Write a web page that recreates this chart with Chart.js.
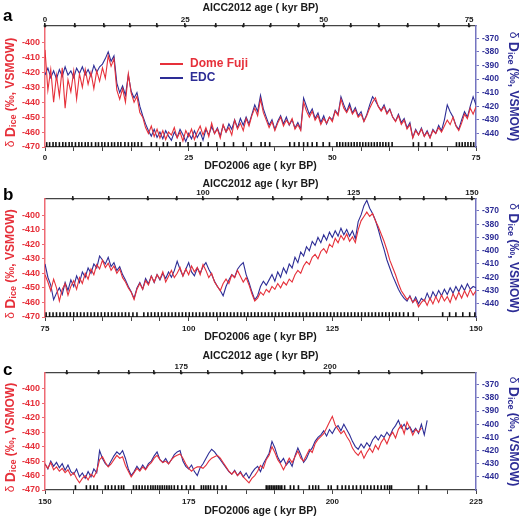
<!DOCTYPE html>
<html><head><meta charset="utf-8">
<script src="https://cdn.jsdelivr.net/npm/chart.js@4"></script>
<style>
body{margin:0;background:#fff;}
.p{position:absolute;left:0;width:525px;}
canvas{display:block;}
</style></head><body>
<div class="p" style="top:0"><canvas id="ca" width="525" height="172"></canvas></div>
<div class="p" style="top:172px"><canvas id="cb" width="525" height="173"></canvas></div>
<div class="p" style="top:345px"><canvas id="cc" width="525" height="172"></canvas></div>
<script>
// step between samples (kyr) for every record
const STEP=0.5;

// panel a : 0-75 kyr (DFO2006)
const dfA=[
-405,-432,-418,-440,-422,-436,-417,-444,-425,-433,
-419,-438,-421,-430,-418,-428,-420,-431,-419,-426,
-417,-424,-409,-416,-411,-432,-438,-431,-440,-421,
-434,-440,-436,-447,-450,-457,-461,-456,-463,-458,
-464,-459,-465,-460,-462,-457,-464,-460,-466,-459,
-463,-458,-465,-460,-456,-462,-457,-463,-454,-461,
-458,-464,-455,-460,-457,-462,-452,-458,-454,-459,
-451,-456,-449,-444,-449,-438,-447,-452,-457,-453,
-459,-454,-450,-456,-452,-455,-451,-458,-455,-459,
-440,-446,-450,-446,-452,-449,-455,-451,-454,-450,
-453,-446,-449,-438,-444,-447,-443,-448,-445,-450,
-448,-453,-449,-444,-440,-437,-443,-446,-443,-448,
-445,-450,-453,-449,-455,-452,-458,-455,-464,-459,
-462,-458,-463,-460,-464,-459,-461,-457,-460,-456,
-452,-455,-450,-456,-459,-454,-448,-451,-444,-448,
-443];
const edcA=[
-397,-392,-399,-394,-400,-393,-398,-391,-397,-394,
-399,-392,-396,-391,-397,-393,-398,-390,-395,-391,
-389,-385,-380,-387,-383,-403,-410,-405,-412,-397,
-409,-414,-410,-420,-427,-433,-438,-442,-437,-443,
-439,-444,-438,-442,-445,-439,-443,-437,-441,-446,
-440,-444,-438,-443,-439,-445,-437,-441,-435,-440,
-436,-442,-434,-439,-433,-437,-430,-436,-429,-434,
-428,-433,-426,-419,-424,-412,-422,-428,-434,-430,
-437,-431,-427,-433,-428,-434,-430,-436,-432,-437,
-414,-420,-426,-422,-429,-425,-432,-427,-433,-428,
-430,-423,-426,-413,-419,-424,-418,-425,-421,-427,
-424,-431,-426,-419,-413,-416,-420,-423,-419,-425,
-422,-428,-431,-426,-432,-429,-436,-432,-443,-437,
-441,-436,-442,-438,-443,-437,-440,-434,-438,-430,
-419,-424,-428,-434,-437,-430,-424,-428,-420,-413,
-419];
const rugA=[0.3,0.8,1.4,1.9,2.5,3.1,3.6,4.2,4.7,5.3,5.9,6.4,7.0,7.5,8.1,8.8,9.3,9.9,10.4,11.0,11.6,12.1,12.7,13.2,13.9,14.5,15.1,15.6,16.2,16.8,
18.5,19.4,20.6,21.3,22.8,23.5,24.9,26.2,27.1,28.4,29.9,31.2,32.8,34.5,35.9,37.6,38.3,39.1,
42.6,43.4,44.2,45.0,45.7,46.5,47.3,48.4,49.5,50.8,51.3,51.8,52.3,52.8,53.3,53.8,54.3,54.8,55.3,55.8,56.3,56.8,57.3,57.8,58.3,58.8,59.3,59.8,60.4,
64.1,65.0,66.2,67.3,71.6,72.1,72.6,73.1,73.6,74.1,74.6];
// AICC2012 ticks (every 5 kyr) placed at their DFO2006 ages
const aiccPosA=[0,5.2,10.3,14.8,19.5,24.4,29.7,34.5,39.2,44.1,48.5,53.2,58.1,63.1,68.5,73.8];
const aiccLabA=['0','','','','','25','','','','','50','','','','','75'];

// panel b : 75-150 kyr
const dfB=[
-441,-446,-452,-444,-450,-459,-451,-447,-455,-449,
-445,-451,-443,-447,-440,-444,-437,-441,-434,-437,
-431,-436,-433,-438,-435,-440,-437,-443,-446,-450,
-453,-458,-451,-447,-451,-445,-448,-442,-446,-441,
-444,-439,-446,-442,-438,-443,-440,-436,-442,-437,
-441,-435,-439,-436,-441,-434,-438,-443,-440,-446,
-449,-452,-447,-444,-447,-441,-443,-438,-442,-446,
-443,-448,-454,-459,-457,-453,-455,-451,-453,-449,
-451,-447,-450,-446,-448,-444,-446,-441,-438,-440,
-435,-432,-434,-429,-427,-430,-425,-423,-426,-420,
-422,-416,-419,-414,-417,-413,-418,-415,-419,-410,
-404,-401,-398,-401,-399,-404,-408,-413,-418,-424,
-431,-436,-441,-447,-452,-455,-458,-456,-460,-458,
-463,-460,-458,-462,-457,-461,-456,-460,-455,-459,
-456,-460,-454,-458,-453,-457,-452,-456,-451,-455,
-452];
const edcB=[
-410,-420,-426,-437,-432,-428,-433,-424,-430,-422,
-427,-419,-424,-416,-420,-413,-417,-410,-413,-404,
-407,-410,-405,-412,-409,-415,-412,-418,-422,-427,
-431,-436,-428,-424,-429,-421,-425,-419,-424,-418,
-422,-417,-421,-416,-420,-415,-408,-414,-419,-414,
-409,-416,-419,-413,-417,-412,-409,-414,-418,-423,
-427,-430,-434,-427,-422,-418,-420,-414,-411,-409,
-418,-424,-431,-437,-434,-427,-423,-426,-422,-418,
-423,-416,-420,-413,-417,-410,-413,-405,-409,-401,
-404,-397,-400,-393,-396,-390,-394,-388,-392,-386,
-390,-385,-389,-383,-388,-384,-389,-385,-391,-378,
-373,-366,-362,-368,-372,-377,-384,-392,-399,-407,
-413,-419,-424,-429,-433,-436,-438,-434,-439,-435,
-440,-436,-438,-432,-437,-431,-435,-430,-434,-429,
-433,-428,-432,-427,-431,-426,-430,-425,-429,-427,
-428];
const rugB=[75.2,75.8,76.4,77.0,77.6,78.2,78.8,79.4,80.0,80.6,81.2,81.8,82.4,83.0,83.6,84.2,84.8,85.4,86.0,86.6,87.2,87.8,88.4,89.0,89.6,90.3,91.0,
92.2,92.9,93.5,94.1,94.7,95.3,95.9,96.5,97.1,97.7,98.3,98.9,99.5,100.1,100.7,101.3,101.9,102.5,103.1,103.7,104.3,104.9,105.5,106.1,106.7,107.3,107.9,108.5,109.1,109.7,
110.3,110.9,111.5,112.1,112.7,113.3,113.9,114.5,115.1,115.7,116.3,116.9,117.5,118.1,118.7,119.3,119.9,120.5,121.1,121.7,122.3,122.9,123.5,124.1,124.7,125.3,125.9,
126.5,127.1,127.7,128.3,128.9,129.5,130.1,130.7,131.3,131.9,132.5,133.1,133.7,134.3,134.9,135.5,136.1,136.7,137.4,138.2,139.1,144.2,145.4,146.5,147.7,148.9,149.8];
const aiccPosB=[79.85,86.1,92.9,97.9,102.5,108.5,114.7,119.6,124.2,128.7,132.4,136.8,140.9,144.8,149.3];
const aiccLabB=['','','','','100','','','','','125','','','','','150'];

// panel c : 150-225 kyr
const dfC=[
-452,-455,-451,-456,-454,-457,-455,-458,-456,-460,
-458,-462,-465,-462,-460,-463,-459,-461,-457,-449,
-447,-451,-454,-452,-449,-446,-448,-447,-453,-457,
-461,-458,-455,-457,-454,-456,-453,-451,-448,-446,
-449,-451,-450,-452,-449,-447,-446,-445,-448,-452,
-455,-457,-455,-454,-454,-455,-453,-450,-448,-447,
-446,-448,-451,-454,-457,-459,-457,-460,-458,-461,
-463,-465,-462,-460,-457,-453,-455,-449,-446,-440,
-444,-449,-452,-456,-452,-448,-451,-447,-443,-448,
-450,-446,-442,-444,-438,-435,-433,-431,-427,-423,
-419,-425,-428,-431,-429,-433,-436,-441,-444,-446,
-443,-448,-444,-441,-444,-439,-442,-437,-434,-438,
-433,-430,-434,-428,-425,-431,-423,-427,-432,-428,
-430,-427];
const edcC=[
-430,-434,-428,-432,-429,-433,-430,-435,-431,-436,
-438,-434,-440,-437,-441,-436,-440,-434,-437,-420,
-426,-430,-432,-428,-424,-421,-423,-420,-426,-434,
-439,-436,-432,-435,-431,-434,-430,-428,-424,-421,
-427,-429,-426,-430,-427,-423,-421,-420,-428,-432,
-434,-431,-436,-439,-433,-430,-426,-422,-419,-421,
-424,-427,-430,-433,-436,-438,-435,-439,-436,-440,
-437,-441,-437,-434,-432,-436,-430,-426,-422,-413,
-418,-425,-429,-426,-431,-428,-432,-424,-418,-423,
-429,-426,-421,-418,-413,-410,-408,-405,-409,-404,
-407,-403,-401,-405,-400,-404,-408,-413,-417,-419,
-415,-418,-414,-417,-412,-409,-412,-408,-410,-406,
-409,-404,-401,-397,-403,-400,-404,-402,-406,-403,
-407,-400,-408,-397];
const rugC=[155.3,157.2,157.9,158.5,159.1,160.5,161.0,161.6,162.2,162.8,163.3,163.7,165.4,165.9,166.4,166.9,167.4,167.9,168.4,168.8,169.2,169.6,170.0,170.4,170.8,171.2,171.6,172.0,172.5,173.1,
173.8,174.6,175.3,175.9,177.2,177.6,178.0,178.4,178.8,179.4,180.0,180.8,181.5,188.5,188.8,189.1,189.4,189.7,190.0,190.3,190.6,190.9,191.2,191.7,192.7,193.3,194.1,
196.0,196.6,197.1,197.6,199.3,199.8,200.9,201.7,202.3,202.9,203.6,204.2,204.9,205.5,206.1,206.7,207.3,207.9,208.5,209.1,209.6,210.0,210.3,215.0,216.4];
const aiccPosC=[153.8,159.3,164.6,169.0,173.7,178.4,184.3,190.0,195.1,199.6,204.6,209.9,215.6];
const aiccLabC=['','','','','175','','','','','200','','',''];

const leftTicks=[-470,-460,-450,-440,-430,-420,-410,-400];
const rightTicks=[-440,-430,-420,-410,-400,-390,-380,-370];

const FF="'Liberation Sans', Arial, sans-serif";
const RED='#e6303a', BLUE='#2d2d96', REDAX='#ee6a74', BLUEAX='#7474c0', INK='#1a1a1a';
Chart.defaults.font.family=FF;

function pts(start,vals){return vals.map((v,i)=>({x:start+i*STEP,y:v}));}

function drawTitle(c,x,y,rot,col){
  const parts=[['normal 12px '+FF,'δ ',0],['bold 14px '+FF,'D',0],['bold 9px '+FF,'ice',3],['bold 12px '+FF,' (‰, VSMOW)',0]];
  c.save();c.translate(x,y);c.rotate(rot);c.fillStyle=col;c.textBaseline='middle';
  let w=0;parts.forEach(p=>{c.font=p[0];w+=c.measureText(p[1]).width;});
  let cx=-w/2;
  parts.forEach(p=>{c.font=p[0];c.fillText(p[1],cx,p[2]);cx+=c.measureText(p[1]).width;});
  c.restore();
}

function makePanel(id,o){
  const extras={id:'extras',afterDraw(ch){
    const c=ch.ctx,a=ch.chartArea,mid=(a.top+a.bottom)/2;
    drawTitle(c,11,mid+6,-Math.PI/2,RED);
    drawTitle(c,513,mid,Math.PI/2,BLUE);
    c.save();
    // dots on the AICC2012 ticks
    const top=ch.scales.x2;
    c.fillStyle='#222';
    top.ticks.forEach(t=>{c.beginPath();c.arc(top.getPixelForValue(t.value),top.bottom,1.4,0,Math.PI*2);c.fill();});
    c.fillStyle='#000';c.font='bold 17px '+FF;c.textBaseline='alphabetic';
    c.fillText(o.letter,3,o.letterY);
    if(o.legend){
      c.lineWidth=2;c.font='bold 12px '+FF;c.textBaseline='middle';
      [[ch.data.datasets[0],64],[ch.data.datasets[1],78]].forEach(([d,y])=>{
        c.strokeStyle=d.borderColor;c.beginPath();c.moveTo(160,y);c.lineTo(183,y);c.stroke();
        c.fillStyle=d.borderColor;c.fillText(d.label,190,y);
      });
    }
    c.restore();
  }};
  const tickFont={size:8,weight:'bold',family:FF};
  const titleFont={size:10.5,weight:'bold',family:FF};
  new Chart(document.getElementById(id),{
    type:'line',
    data:{datasets:[
      {label:'Dome Fuji',data:pts(o.xmin,o.df),xAxisID:'x',yAxisID:'y',borderColor:RED,borderWidth:1.1,pointRadius:0,tension:0},
      {label:'EDC',data:pts(o.xmin,o.edc),xAxisID:'x',yAxisID:'y2',borderColor:BLUE,borderWidth:1.1,pointRadius:0,tension:0},
      {label:'rug',data:o.rug.map(v=>({x:v,y:-468.6})),xAxisID:'x',yAxisID:'y',showLine:false,pointStyle:'line',rotation:90,pointRadius:2.8,pointBorderWidth:1.6,borderColor:'#111',pointBorderColor:'#111'}
    ]},
    options:{
      responsive:false,animation:false,events:[],
      layout:{padding:0},
      plugins:{legend:{display:false},tooltip:{enabled:false}},
      scales:{
        x:{type:'linear',position:'bottom',min:o.xmin,max:o.xmax,
          ticks:{stepSize:5,autoSkip:false,maxRotation:0,padding:o.botTickPad,color:INK,font:tickFont,
            callback:v=>v%25===0?String(v):''},
          grid:{drawOnChartArea:false,tickLength:4,color:'#444'},
          border:{color:'#444',width:1.2},
          title:{display:true,text:'DFO2006 age ( kyr BP)',color:INK,font:titleFont,padding:{top:0,bottom:o.botPad}},
          afterFit:s=>{s.height=o.botH;}},
        x2:{type:'linear',position:'top',min:o.xmin,max:o.xmax,
          afterBuildTicks:s=>{s.ticks=o.aiccPos.map(v=>({value:v}));},
          ticks:{autoSkip:false,maxRotation:0,padding:-2,color:INK,font:tickFont,callback:(v,i)=>o.aiccLab[i]},
          grid:{drawOnChartArea:false,tickLength:3,color:'#222',lineWidth:1.5},
          border:{color:'#444',width:1.2},
          title:{display:true,text:'AICC2012 age ( kyr BP)',color:INK,font:titleFont,padding:{top:o.topPad,bottom:0}},
          afterFit:s=>{s.height=o.topH;}},
        y:{type:'linear',position:'left',min:-470,max:-389,
          afterBuildTicks:s=>{s.ticks=leftTicks.map(v=>({value:v}));},
          ticks:{color:RED,font:{size:9,weight:'bold',family:FF},padding:2},
          grid:{drawOnChartArea:false,tickLength:3,color:REDAX},
          border:{color:REDAX,width:1.5},
          afterFit:s=>{s.width=45;}},
        y2:{type:'linear',position:'right',min:-450,max:-361,
          afterBuildTicks:s=>{s.ticks=rightTicks.map(v=>({value:v}));},
          ticks:{color:BLUE,font:{size:8.5,weight:'bold',family:FF},padding:3},
          grid:{drawOnChartArea:false,tickLength:3,color:BLUEAX},
          border:{color:BLUEAX,width:1.5},
          afterFit:s=>{s.width=49;}}
      }
    },
    plugins:[extras]
  });
}

makePanel('ca',{letter:'a',letterY:21,legend:true,xmin:0,xmax:75,df:dfA,edc:edcA,rug:rugA,aiccPos:aiccPosA,aiccLab:aiccLabA,
  topH:26,botH:25,topPad:2,botPad:0,botTickPad:2});
makePanel('cb',{letter:'b',letterY:28,legend:false,xmin:75,xmax:150,df:dfB,edc:edcB,rug:rugB,aiccPos:aiccPosB,aiccLab:aiccLabB,
  topH:27,botH:28,topPad:6,botPad:2,botTickPad:3});
makePanel('cc',{letter:'c',letterY:30,legend:false,xmin:150,xmax:225,df:dfC,edc:edcC,rug:rugC,aiccPos:aiccPosC,aiccLab:aiccLabC,
  topH:28,botH:27,topPad:5,botPad:0,botTickPad:3});
</script>
</body></html>
